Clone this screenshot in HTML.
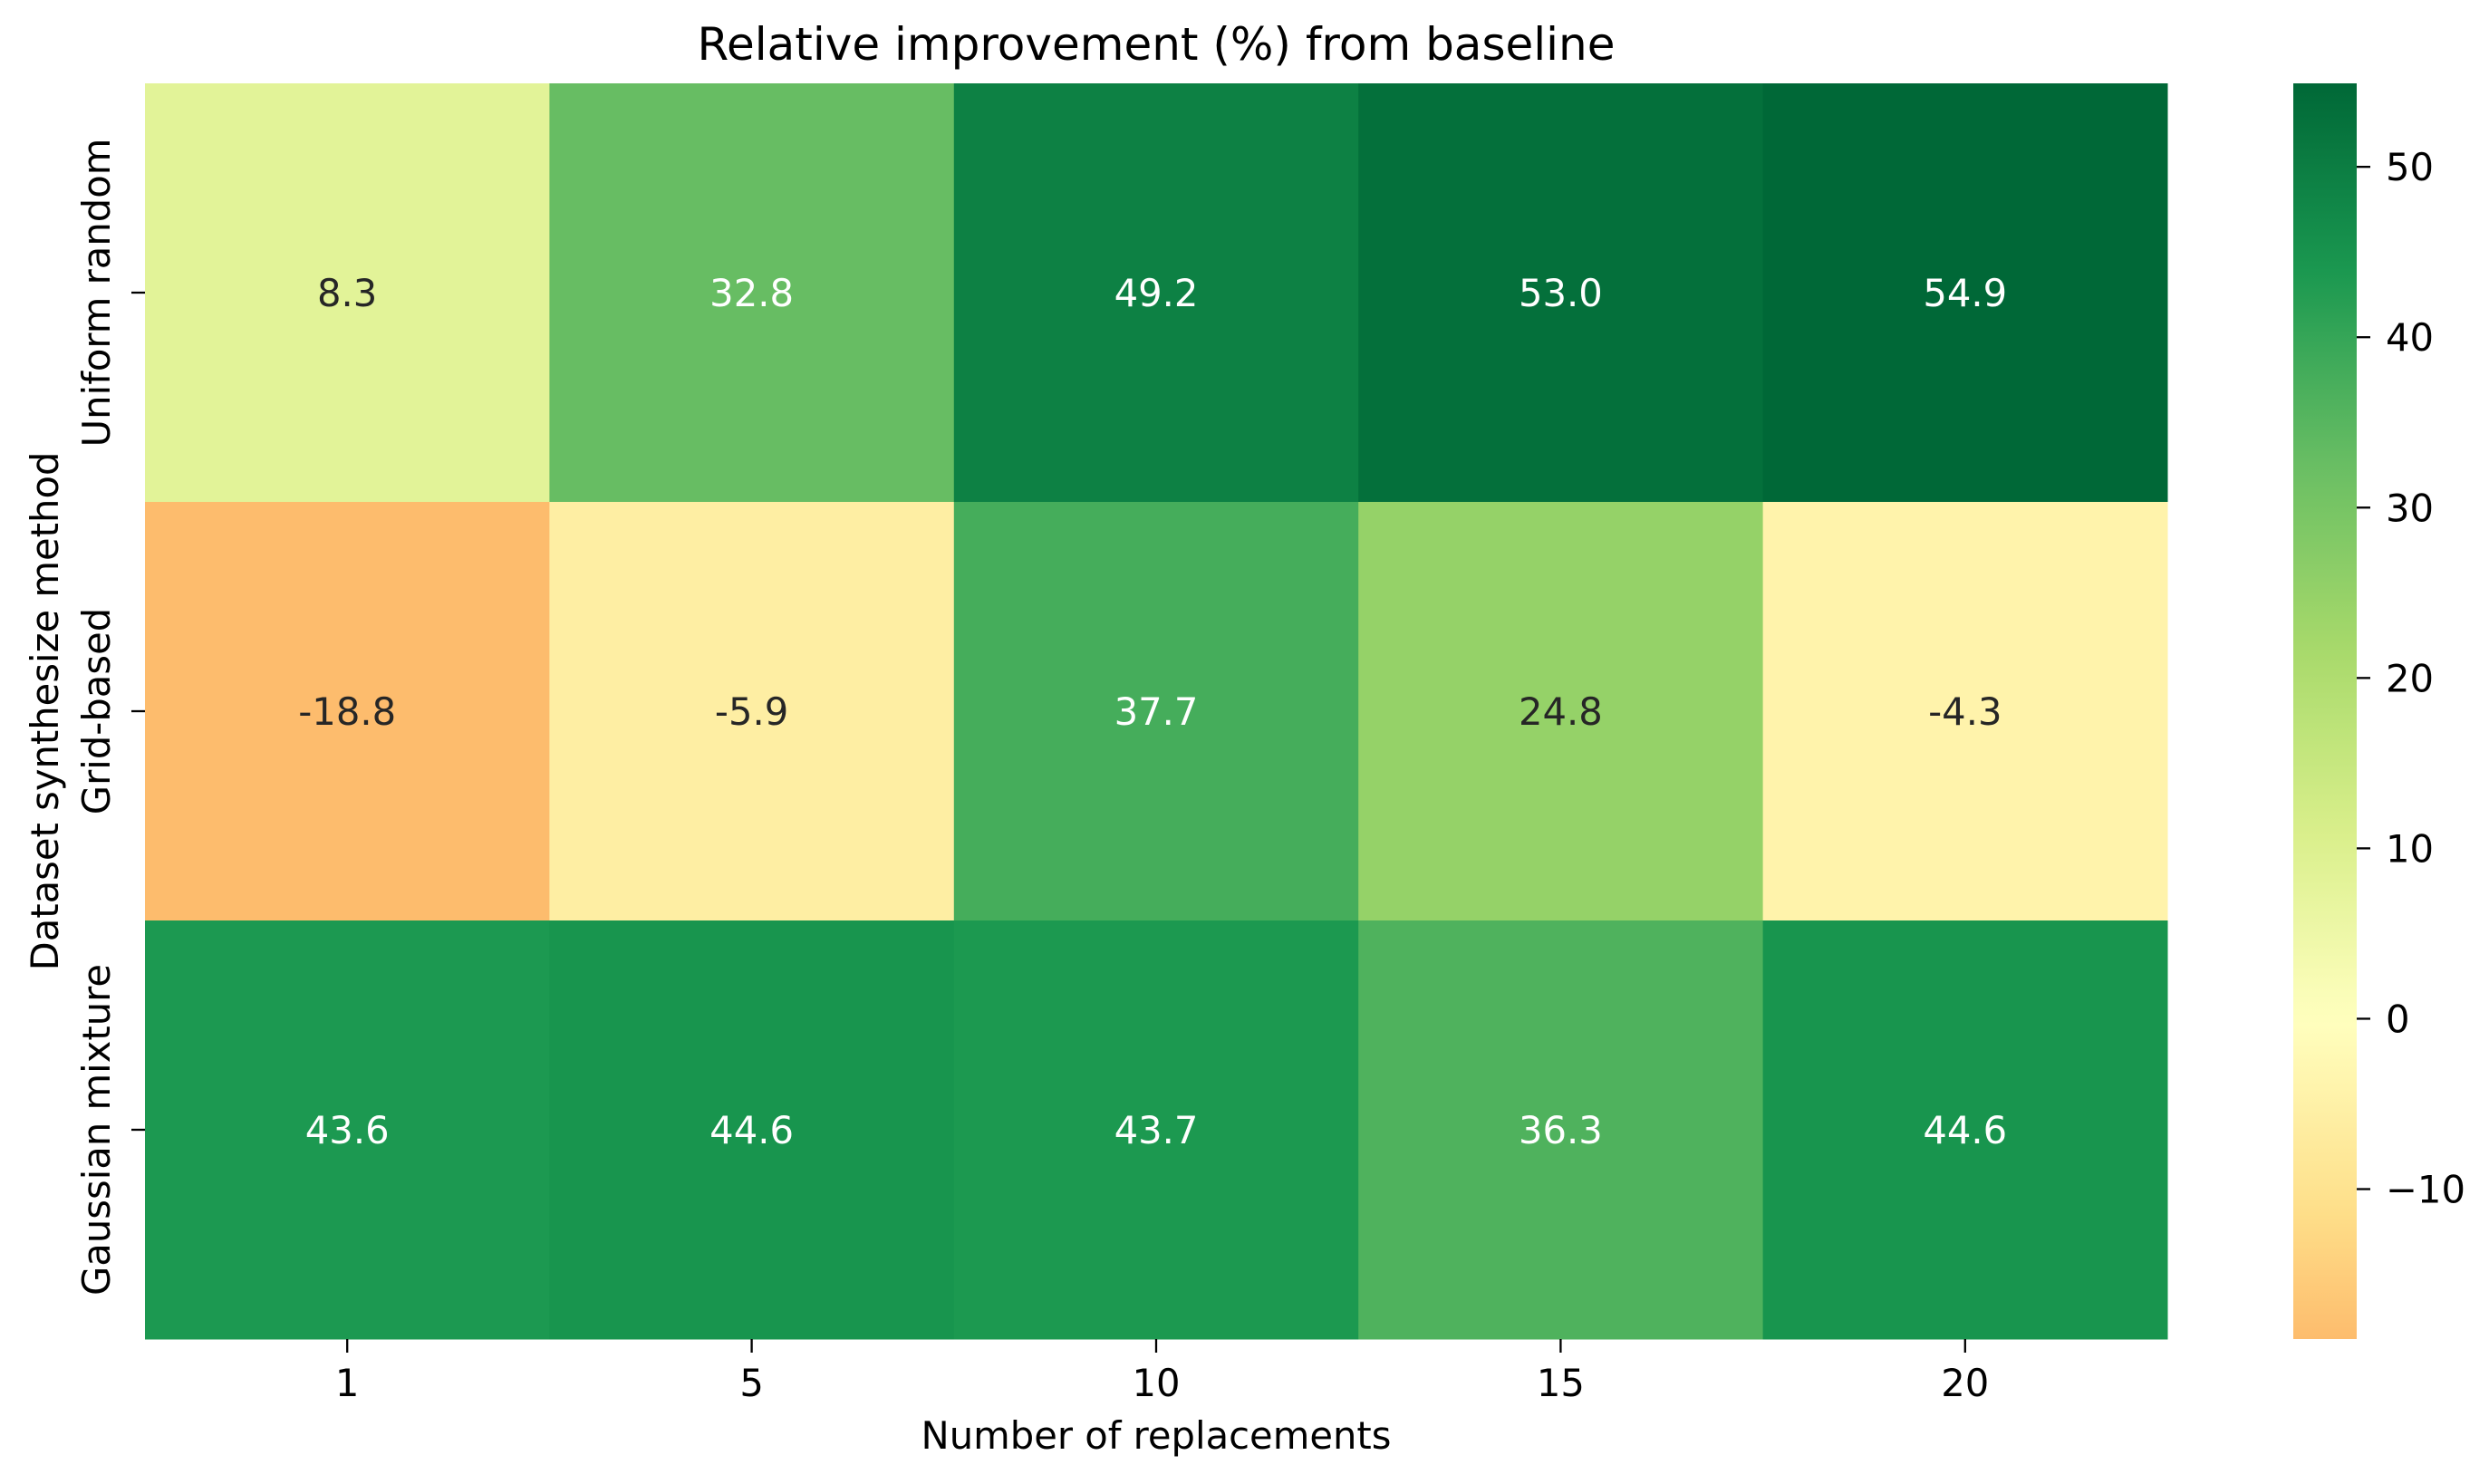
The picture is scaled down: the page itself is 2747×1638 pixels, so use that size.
<!DOCTYPE html>
<html><head><meta charset="utf-8"><style>
html,body{margin:0;padding:0;background:#fff;}
svg{display:block;font-family:"DejaVu Sans","Liberation Sans",sans-serif;}
</style></head><body>
<svg id="chart" width="2747" height="1638" viewBox="0 0 2747 1638" xmlns="http://www.w3.org/2000/svg">
<defs><linearGradient id="cbgrad" x1="0" y1="1" x2="0" y2="0"></linearGradient></defs>
<text x="1276" y="66" font-size="50" text-anchor="middle" fill="#000">Relative improvement (%) from baseline</text>
<text x="1276" y="1599" font-size="41.7" text-anchor="middle" fill="#000">Number of replacements</text>
<text transform="translate(64,785) rotate(-90)" font-size="41.7" text-anchor="middle" fill="#000">Dataset synthesize method</text>
<g id="cells"></g>
<g id="colorbar"></g>
</svg>
<script>
const cols = ["1","5","10","15","20"];
const rows = ["Uniform random","Grid-based","Gaussian mixture"];
const rowUniform = [8.3, 32.8, 49.2, 53.0, 54.9];
const rowGrid = [-18.8, -5.9, 37.7, 24.8, -4.3];
const rowGauss = [43.6, 44.6, 43.7, 36.3, 44.6];
const cbTicks = [-10, 0, 10, 20, 30, 40, 50];

const values = [rowUniform, rowGrid, rowGauss];
const svg = document.getElementById('chart');
const NS = 'http://www.w3.org/2000/svg';
const L = 160, R = 2392, T = 92, B = 1478;
const all = values.flat();
const vmin = Math.min(...all), vmax = Math.max(...all);
const rng = Math.max(Math.abs(vmin), Math.abs(vmax));
const stops = ["#a50026","#d73027","#f46d43","#fdae61","#fee08b","#ffffbf","#d9ef8b","#a6d96a","#66bd63","#1a9850","#006837"];
function hex(h){return [1,3,5].map(i=>parseInt(h.substr(i,2),16));}
function cmap(t){t=Math.max(0,Math.min(1,t));const p=t*10;const i=Math.min(9,Math.floor(p));const f=p-i;const a=hex(stops[i]),b=hex(stops[i+1]);return a.map((v,k)=>Math.round(v+(b[k]-v)*f));}
function color(v){const c=cmap((v+rng)/(2*rng));return 'rgb('+c.join(',')+')';}
function lum(v){const c=cmap((v+rng)/(2*rng)).map(x=>{x/=255;return x<=0.03928?x/12.92:Math.pow((x+0.055)/1.055,2.4);});return 0.2126*c[0]+0.7152*c[1]+0.0722*c[2];}
const cw = (R-L)/cols.length, rh = (B-T)/rows.length;
const xPos = i => L + i*cw;
const yPos = j => T + j*rh;
const g = document.getElementById('cells');
function mk(tag, attrs, parent){const e=document.createElementNS(NS,tag);for(const k in attrs)e.setAttribute(k,attrs[k]);parent.appendChild(e);return e;}
values.forEach((row,j)=>{
  row.forEach((v,i)=>{
    const r = mk('rect',{x:xPos(i),y:yPos(j),width:cw+0.5,height:rh+0.5,fill:color(v)},g);
    
    
    const t = mk('text',{x:xPos(i)+cw/2,y:yPos(j)+rh/2+15,'font-size':41.7,'text-anchor':'middle',fill:lum(v)>0.408?'#262626':'#ffffff'},g);
    
    
    t.textContent = v.toFixed(1);
  });
});
cols.forEach((c,i)=>{
  const x = xPos(i)+cw/2;
  const tk = mk('line',{x1:x,y1:B,x2:x,y2:B+15,stroke:'#000','stroke-width':2.3},svg);
  
  
  const t = mk('text',{x:x,y:1541,'font-size':41.7,'text-anchor':'middle',fill:'#000'},svg);
  
  
  t.textContent = c;
});
rows.forEach((r,j)=>{
  const y = yPos(j)+rh/2;
  const tk = mk('line',{x1:L-15,y1:y,x2:L,y2:y,stroke:'#000','stroke-width':2.3},svg);
  
  
  const t = mk('text',{transform:'translate(121,'+y+') rotate(-90)','font-size':41.7,'text-anchor':'middle',fill:'#000'},svg);
  
  
  t.textContent = r;
});
// colorbar
const CL = 2531, CR = 2601;
const cbY = v => B - (v - vmin)/(vmax - vmin)*(B - T);
const grad = document.getElementById('cbgrad');
for(let k=0;k<=40;k++){
  const v = vmin + (vmax-vmin)*k/40;
  mk('stop',{offset:(k/40*100)+'%','stop-color':color(v)},grad);
}
const cb = document.getElementById('colorbar');
const cr = mk('rect',{x:CL,y:T,width:CR-CL,height:B-T,fill:'url(#cbgrad)'},cb);


cbTicks.forEach(v=>{
  const y = cbY(v);
  const tk = mk('line',{x1:CR,y1:y,x2:CR+15,y2:y,stroke:'#000','stroke-width':2.3},cb);
  
  
  const t = mk('text',{x:2633,y:y+15,'font-size':41.7,fill:'#000'},cb);
  
  
  t.textContent = v<0 ? '\u2212'+Math.abs(v) : String(v);
});
</script>
</body></html>
